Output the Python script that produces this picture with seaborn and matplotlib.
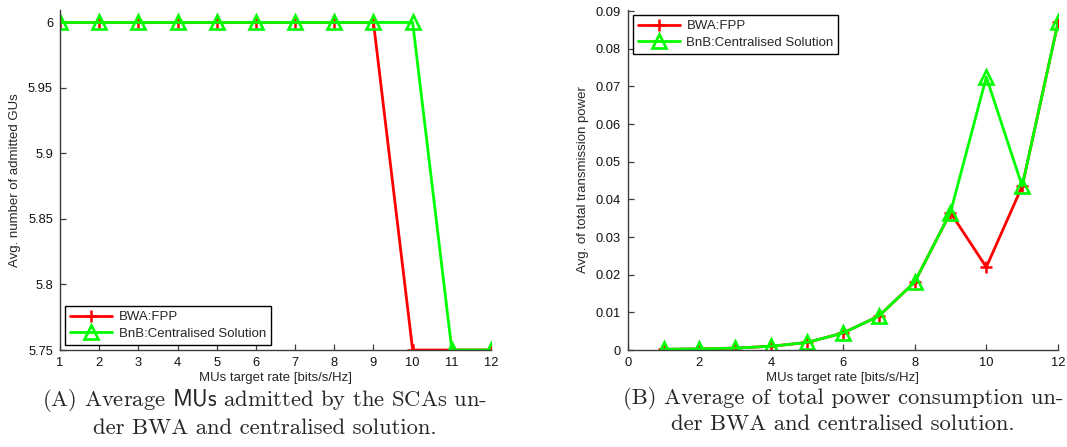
import numpy as np
import pandas as pd
import matplotlib
matplotlib.use("Agg")
import matplotlib.pyplot as plt
import seaborn as sns

# ---- data ----
rates = [1, 2, 3, 4, 5, 6, 7, 8, 9, 10, 11, 12]

admitted_bwa = [6, 6, 6, 6, 6, 6, 6, 6, 6, 5.75, 5.75, 5.75]
admitted_bnb = [6, 6, 6, 6, 6, 6, 6, 6, 6, 6, 5.75, 5.75]

power_bwa = [0.0002, 0.0003, 0.0005, 0.0010, 0.0020, 0.0045, 0.0090, 0.0180, 0.0365, 0.0220, 0.0435, 0.0870]
power_bnb = [0.0002, 0.0003, 0.0005, 0.0010, 0.0020, 0.0045, 0.0090, 0.0180, 0.0365, 0.0725, 0.0435, 0.0870]

label_bwa = "BWA:FPP"
label_bnb = "BnB:Centralised Solution"

left_yticks = [5.75, 5.8, 5.85, 5.9, 5.95, 6]
left_yticklabels = ["5.75", "5.8", "5.85", "5.9", "5.95", "6"]
right_xticks = [0, 2, 4, 6, 8, 10, 12]
right_yticks = [0, 0.01, 0.02, 0.03, 0.04, 0.05, 0.06, 0.07, 0.08, 0.09]
right_yticklabels = ["0", "0.01", "0.02", "0.03", "0.04", "0.05", "0.06", "0.07", "0.08", "0.09"]

caption_a = "(A) Average $\\mathsf{MUs}$ admitted by the SCAs un-\nder BWA and centralised solution."
caption_b = "(B) Average of total power consumption un-\nder BWA and centralised solution."

# ---- style ----
sns.set_style("white")
plt.rcParams["font.family"] = ["Liberation Sans", "DejaVu Sans"]
plt.rcParams["mathtext.fontset"] = "cm"

RED = "#ff0000"
GREEN = "#00ff00"
SPINE = "#3c3c3c"

fig = plt.figure(figsize=(10.67, 4.47), dpi=100)
ax1 = fig.add_axes([0.0562, 0.217, 0.404, 0.7606])
ax2 = fig.add_axes([0.5883, 0.217, 0.4033, 0.7606])

df_a = pd.DataFrame({"rate": rates, "bwa": admitted_bwa, "bnb": admitted_bnb})
df_b = pd.DataFrame({"rate": rates, "bwa": power_bwa, "bnb": power_bnb})


def draw(ax, df):
    sns.lineplot(data=df, x="rate", y="bwa", ax=ax, color=RED, linewidth=2.0,
                 marker="+", markersize=8, markeredgewidth=1.8, markeredgecolor=RED,
                 label=label_bwa)
    sns.lineplot(data=df, x="rate", y="bnb", ax=ax, color=GREEN, linewidth=2.0,
                 marker="^", markersize=10, markeredgewidth=1.9, markeredgecolor=GREEN,
                 markerfacecolor="none", label=label_bnb)


draw(ax1, df_a)
draw(ax2, df_b)

ax1.set_xlim(1, 12)
ax1.set_ylim(5.75, 6.0095)
ax1.set_xticks(rates)
ax1.set_yticks(left_yticks)
ax1.set_yticklabels(left_yticklabels)
ax1.set_ylabel("Avg. number of admitted GUs", fontsize=9.5, labelpad=5)

ax2.set_xlim(0, 12)
ax2.set_ylim(0, 0.0903)
ax2.set_xticks(right_xticks)
ax2.set_yticks(right_yticks)
ax2.set_yticklabels(right_yticklabels)
ax2.set_ylabel("Avg. of total transmission power", fontsize=9.5, labelpad=5)

for ax in (ax1, ax2):
    ax.set_xlabel("MUs target rate [bits/s/Hz]", fontsize=9.5, labelpad=2)
    for side in ("top", "right"):
        ax.spines[side].set_visible(False)
    for side in ("left", "bottom"):
        ax.spines[side].set_visible(True)
        ax.spines[side].set_color(SPINE)
        ax.spines[side].set_linewidth(1.0)
    ax.tick_params(direction="in", length=4, width=0.9, color=SPINE,
                   labelsize=9.3, labelcolor="#111111", pad=5,
                   bottom=True, left=True)
    ax.grid(False)

leg_kw = dict(fontsize=9.5, frameon=True, fancybox=False, framealpha=1,
              edgecolor="black", handlelength=3.2, borderpad=0.35,
              labelspacing=0.35, handletextpad=0.5, borderaxespad=0.4)
leg1 = ax1.legend(loc="lower left", **leg_kw)
leg2 = ax2.legend(loc="upper left", **leg_kw)
for leg in (leg1, leg2):
    leg.get_frame().set_linewidth(1.0)

cap_kw = dict(ha="center", va="top", fontsize=16.3, family="cmr10",
              linespacing=1.3)
fig.text(265 / 1067, 1 - 387 / 447, caption_a, **cap_kw)
fig.text(843 / 1067, 1 - 387 / 447, caption_b, **cap_kw)

fig.savefig("out.png", dpi=100)
